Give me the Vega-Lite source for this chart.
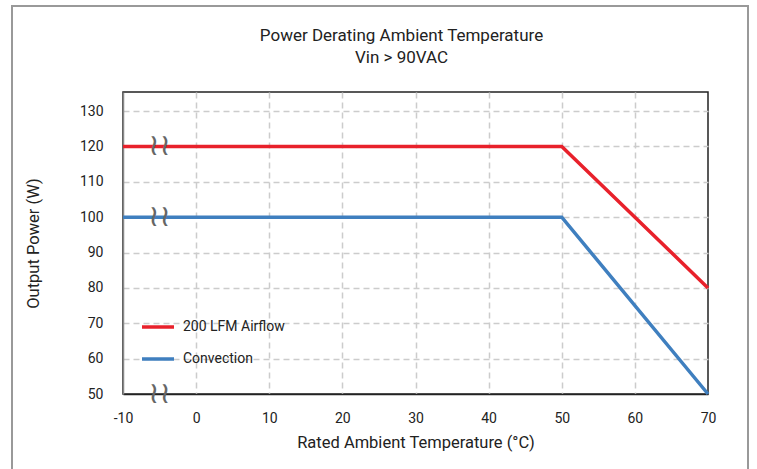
{
  "$schema": "https://vega.github.io/schema/vega-lite/v6.json",
  "autosize": {"type": "none"},
  "width": 585,
  "height": 302,
  "padding": {"left": 123, "top": 92, "right": 49, "bottom": 75},
  "background": "white",
  "title": {
    "text": ["Power Derating Ambient Temperature", "Vin > 90VAC"],
    "font": "Roboto",
    "fontSize": 17,
    "fontWeight": "normal",
    "color": "#222222",
    "anchor": "middle",
    "dx": -14,
    "offset": -62,
    "lineHeight": 22
  },
  "datasets": {
    "curves": [
      {"series": "200 LFM Airflow", "temp": -10, "power": 120},
      {"series": "200 LFM Airflow", "temp": 50, "power": 120},
      {"series": "200 LFM Airflow", "temp": 70, "power": 80},
      {"series": "Convection", "temp": -10, "power": 100},
      {"series": "Convection", "temp": 50, "power": 100},
      {"series": "Convection", "temp": 70, "power": 50}
    ],
    "breaks": [
      {"temp": -5, "power": 120},
      {"temp": -5, "power": 100},
      {"temp": -5, "power": 50}
    ],
    "frame": [
      {"temp": -25.18, "temp2": 75.47, "power": 159.7, "power2": 20}
    ]
  },
  "config": {
    "view": {"stroke": "#222222", "strokeWidth": 1.5},
    "font": "Roboto",
    "axis": {
      "labelFont": "Roboto",
      "labelFontSize": 14,
      "labelColor": "#222222",
      "labelOverlap": false,
      "labelFlush": false,
      "titleFont": "Roboto",
      "titleFontSize": 16.5,
      "titleFontWeight": "normal",
      "titleColor": "#222222",
      "ticks": false,
      "gridColor": "#cccccc",
      "gridDash": [6, 4],
      "gridWidth": 1.5
    }
  },
  "encoding": {
    "x": {
      "field": "temp",
      "type": "quantitative",
      "scale": {"domain": [-10, 70], "nice": false, "zero": false},
      "axis": {
        "title": "Rated Ambient Temperature (°C)",
        "values": [-10, 0, 10, 20, 30, 40, 50, 60, 70],
        "labelExpr": "'' + datum.value",
        "labelOverlap": false,
        "gridOpacity": {"condition": {"test": "datum.value == -10 || datum.value == 70", "value": 0}, "value": 1},
        "domainColor": "#222222",
        "domainWidth": 1.5,
        "labelPadding": 17,
        "titlePadding": 9
      }
    },
    "y": {
      "field": "power",
      "type": "quantitative",
      "scale": {"domain": [50, 135.4], "nice": false, "zero": false},
      "axis": {
        "title": "Output Power (W)",
        "values": [50, 60, 70, 80, 90, 100, 110, 120, 130],
        "labelExpr": "'' + datum.value",
        "labelOverlap": false,
        "labelBound": false,
        "gridOpacity": {"condition": {"test": "datum.value == 50", "value": 0}, "value": 1},
        "domainColor": "#888888",
        "domainWidth": 1.5,
        "labelPadding": 20,
        "titlePadding": 38
      }
    }
  },
  "layer": [
    {
      "data": {"name": "curves"},
      "mark": {"type": "line", "strokeWidth": 3.5, "clip": false},
      "encoding": {
        "color": {
          "field": "series",
          "type": "nominal",
          "scale": {"domain": ["200 LFM Airflow", "Convection"], "range": ["#e8212b", "#3f7fbf"]},
          "legend": {
            "title": null,
            "orient": "none",
            "legendX": 17,
            "legendY": 217,
            "symbolType": "stroke",
            "symbolSize": 1024,
            "symbolStrokeWidth": 3.5,
            "labelFont": "Roboto",
            "labelFontSize": 14,
            "labelColor": "#222222",
            "labelOffset": 7,
            "rowPadding": 7,
            "padding": 0
          }
        }
      }
    },
    {
      "data": {"name": "breaks"},
      "mark": {"type": "text", "text": "≀≀", "font": "DejaVu Sans", "fontSize": 30, "color": "#666666", "baseline": "middle", "align": "center", "clip": false},
      "encoding": {}
    },
    {
      "data": {"name": "frame"},
      "mark": {"type": "rect", "fill": null, "stroke": "#999999", "strokeWidth": 2, "clip": false},
      "encoding": {
        "x2": {"field": "temp2"},
        "y2": {"field": "power2"}
      }
    }
  ]
}
